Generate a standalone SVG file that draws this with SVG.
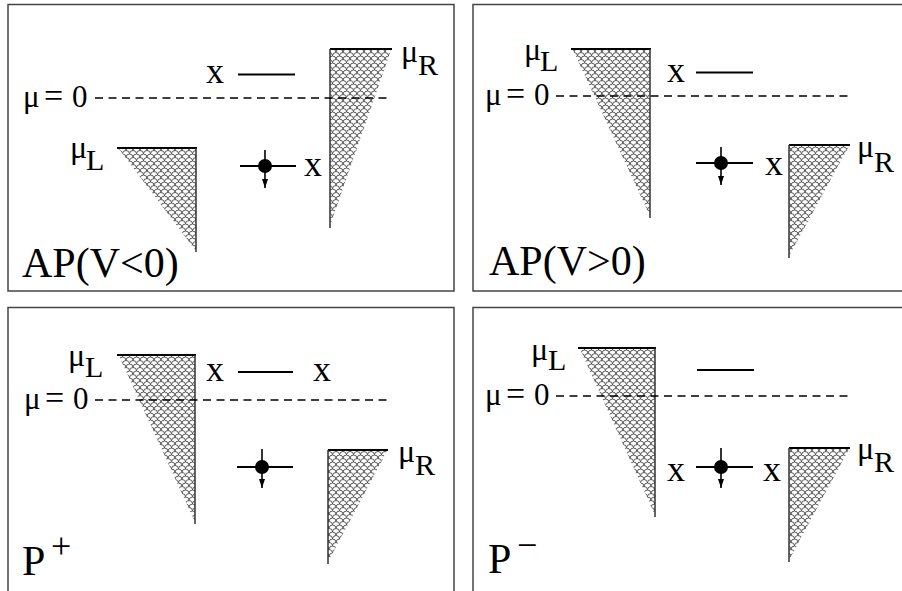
<svg xmlns="http://www.w3.org/2000/svg" width="902" height="591" viewBox="0 0 902 591">
<defs>
<pattern id="scales" width="7" height="7" patternUnits="userSpaceOnUse">
<rect width="7" height="7" fill="#fff"/>
<path d="M0,3.5 A3.5,3.5 0 0 1 7,3.5 M-3.5,7 A3.5,3.5 0 0 1 3.5,7 M3.5,7 A3.5,3.5 0 0 1 10.5,7 M-3.5,0 A3.5,3.5 0 0 1 3.5,0 M3.5,0 A3.5,3.5 0 0 1 10.5,0" fill="none" stroke="#444" stroke-width="0.9"/>
</pattern>
<marker id="ah" markerWidth="9" markerHeight="6" refX="9" refY="3" orient="auto" markerUnits="userSpaceOnUse" viewBox="0 0 9 6">
<path d="M0,0 L9,3 L0,6 Z" fill="#000"/>
</marker>
</defs>
<style>
.frame{fill:none;stroke:#444;stroke-width:1.5}
text{font-family:'Liberation Serif','DejaVu Serif','Times New Roman',serif;fill:#000}
.x{font-size:36px}
.mu{font-size:32px}
.z{font-size:31px}
.eq{font-size:34px}
.sub{font-size:30px}
.sign{font-size:36px}
.lab{font-size:42px}
.lvl{stroke:#000;stroke-width:2}
.dash{stroke:#000;stroke-width:1.6;stroke-dasharray:8 5.5;fill:none}
.fill{fill:url(#scales);stroke:none}
.top{stroke:#000;stroke-width:2}
.edge{stroke:#333;stroke-width:1.5}
.ev{stroke:#000;stroke-width:1.6}
</style>

<!-- Panel 1: AP(V<0) -->
<g id="panel-ap-neg">
<rect class="frame" x="8" y="4.5" width="446" height="286.5"/>
<g id="p1-left-lead">
<polygon class="fill" points="119,149 196,149 196,251"/>
<line class="top" x1="117" y1="148" x2="197" y2="148"/>
<line class="edge" x1="196" y1="148" x2="196" y2="252"/>
<text class="mu" x="70" y="158">μ</text><text class="sub" x="86" y="170">L</text>
</g>
<g id="p1-right-lead">
<polygon class="fill" points="330,50 391,50 330,226"/>
<line class="top" x1="330" y1="49" x2="392" y2="49"/>
<line class="edge" x1="330" y1="49" x2="330" y2="228"/>
<text class="mu" x="401" y="62">μ</text><text class="sub" x="418" y="75">R</text>
</g>
<g id="p1-zero">
<text class="z" y="107"><tspan x="23">μ</tspan><tspan class="eq" x="44">=</tspan><tspan x="72">0</tspan></text>
<line class="dash" x1="95" y1="98" x2="390" y2="98"/>
</g>
<g id="p1-upper-level">
<text class="x" x="206" y="83">x</text>
<line class="lvl" x1="238" y1="74.5" x2="295" y2="74.5"/>
</g>
<g id="p1-electron">
<line class="lvl" x1="240" y1="166" x2="296" y2="166"/>
<line class="ev" x1="265" y1="150" x2="265" y2="188" marker-end="url(#ah)"/>
<circle cx="265" cy="166" r="7" fill="#000"/>
<text class="x" x="304" y="176">x</text>
</g>
<text class="lab" x="22" y="277">AP(V&lt;0)</text>
</g>

<!-- Panel 2: AP(V>0) -->
<g id="panel-ap-pos">
<rect class="frame" x="473" y="4.5" width="440" height="286.5"/>
<g id="p2-left-lead">
<polygon class="fill" points="573,50 650,50 650,216"/>
<line class="top" x1="571" y1="49" x2="651" y2="49"/>
<line class="edge" x1="650" y1="49" x2="650" y2="218"/>
<text class="mu" x="524" y="60">μ</text><text class="sub" x="540" y="71">L</text>
</g>
<g id="p2-right-lead">
<polygon class="fill" points="789,146 849,146 789,256"/>
<line class="top" x1="789" y1="145" x2="850" y2="145"/>
<line class="edge" x1="789" y1="145" x2="789" y2="258"/>
<text class="mu" x="857" y="157">μ</text><text class="sub" x="874" y="172">R</text>
</g>
<g id="p2-zero">
<text class="z" y="105"><tspan x="485">μ</tspan><tspan class="eq" x="506">=</tspan><tspan x="534">0</tspan></text>
<line class="dash" x1="556" y1="96" x2="851" y2="96"/>
</g>
<g id="p2-upper-level">
<text class="x" x="667" y="82">x</text>
<line class="lvl" x1="696" y1="72.5" x2="753" y2="72.5"/>
</g>
<g id="p2-electron">
<line class="lvl" x1="696" y1="163" x2="753" y2="163"/>
<line class="ev" x1="721" y1="147" x2="721" y2="185" marker-end="url(#ah)"/>
<circle cx="721" cy="163" r="7" fill="#000"/>
<text class="x" x="765" y="175">x</text>
</g>
<text class="lab" x="489" y="275">AP(V&gt;0)</text>
</g>

<!-- Panel 3: P+ -->
<g id="panel-p-plus">
<rect class="frame" x="8" y="307.5" width="446" height="300"/>
<g id="p3-left-lead">
<polygon class="fill" points="119,356 195,356 195,522"/>
<line class="top" x1="117" y1="355" x2="196" y2="355"/>
<line class="edge" x1="195" y1="355" x2="195" y2="524"/>
<text class="mu" x="68" y="366">μ</text><text class="sub" x="85" y="377">L</text>
</g>
<g id="p3-right-lead">
<polygon class="fill" points="328,451 387,451 328,562"/>
<line class="top" x1="328" y1="450" x2="388" y2="450"/>
<line class="edge" x1="328" y1="450" x2="328" y2="564"/>
<text class="mu" x="398" y="462">μ</text><text class="sub" x="415" y="475">R</text>
</g>
<g id="p3-zero">
<text class="z" y="409"><tspan x="24">μ</tspan><tspan class="eq" x="45">=</tspan><tspan x="73">0</tspan></text>
<line class="dash" x1="95" y1="400" x2="390" y2="400"/>
</g>
<g id="p3-upper-level">
<text class="x" x="206" y="381">x</text>
<line class="lvl" x1="238" y1="372" x2="293" y2="372"/>
<text class="x" x="313" y="381">x</text>
</g>
<g id="p3-electron">
<line class="lvl" x1="237" y1="467" x2="293" y2="467"/>
<line class="ev" x1="262" y1="449" x2="262" y2="488" marker-end="url(#ah)"/>
<circle cx="262" cy="467" r="7" fill="#000"/>
</g>
<text class="lab" x="22" y="575">P</text><text class="sign" x="51" y="558">+</text>
</g>

<!-- Panel 4: P- -->
<g id="panel-p-minus">
<rect class="frame" x="473" y="307.5" width="440" height="300"/>
<g id="p4-left-lead">
<polygon class="fill" points="580,349 655,349 655,515"/>
<line class="top" x1="578" y1="348" x2="656" y2="348"/>
<line class="edge" x1="655" y1="348" x2="655" y2="517"/>
<text class="mu" x="531" y="360">μ</text><text class="sub" x="548" y="370">L</text>
</g>
<g id="p4-right-lead">
<polygon class="fill" points="789,449 849,449 789,560"/>
<line class="top" x1="789" y1="448" x2="850" y2="448"/>
<line class="edge" x1="789" y1="448" x2="789" y2="562"/>
<text class="mu" x="857" y="459">μ</text><text class="sub" x="874" y="472">R</text>
</g>
<g id="p4-zero">
<text class="z" y="405"><tspan x="485">μ</tspan><tspan class="eq" x="506">=</tspan><tspan x="534">0</tspan></text>
<line class="dash" x1="556" y1="396" x2="851" y2="396"/>
</g>
<g id="p4-upper-level">
<line class="lvl" x1="697" y1="370" x2="754" y2="370"/>
</g>
<g id="p4-electron">
<text class="x" x="667" y="481">x</text>
<line class="lvl" x1="696" y1="467" x2="753" y2="467"/>
<line class="ev" x1="721" y1="448" x2="721" y2="488" marker-end="url(#ah)"/>
<circle cx="721" cy="467" r="7" fill="#000"/>
<text class="x" x="763" y="481">x</text>
</g>
<text class="lab" x="488" y="573">P</text><text class="sign" x="517" y="557">−</text>
</g>
</svg>
